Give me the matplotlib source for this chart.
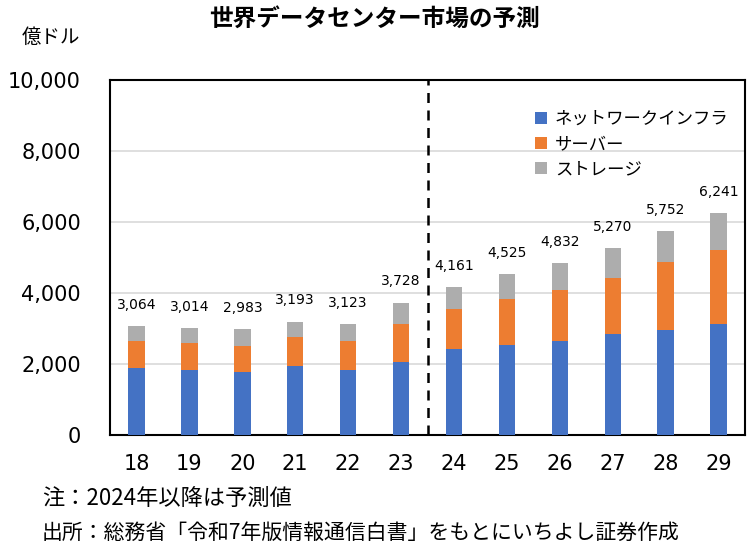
import numpy as np
import matplotlib.pyplot as plt

plt.rcParams['font.family'] = ['Noto Sans CJK JP', 'DejaVu Sans']

years = ["18", "19", "20", "21", "22", "23", "24", "25", "26", "27", "28", "29"]
network = [1889, 1833, 1769, 1944, 1833, 2064, 2425, 2536, 2656, 2842, 2953, 3128]
server = [769, 770, 750, 806, 825, 1055, 1131, 1306, 1416, 1575, 1925, 2094]
totals = [3064, 3014, 2983, 3193, 3123, 3728, 4161, 4525, 4832, 5270, 5752, 6241]
storage = [t - n - s for t, n, s in zip(totals, network, server)]
y_ticks = [0, 2000, 4000, 6000, 8000, 10000]

fig = plt.figure(figsize=(7.5, 5.54), dpi=100)
ax = fig.add_axes([0.1467, 0.2148, 0.8467, 0.6408])

x = np.arange(len(years))
w = 0.31
ax.bar(x, network, w, color='#4472C4', label='ネットワークインフラ', zorder=3)
ax.bar(x, server, w, bottom=network, color='#ED7D31', label='サーバー', zorder=3)
base = np.array(network) + np.array(server)
ax.bar(x, storage, w, bottom=base, color='#ADADAD', label='ストレージ', zorder=3)

for xi, t in zip(x, totals):
    ax.text(xi, t + 400, f"{t:,}", ha='center', va='bottom', fontsize=10,
            family='DejaVu Sans')

# 2024年以降は予測値
ax.axvline(5.5, color='black', ls=(0, (4, 3)), lw=1.8, zorder=4)

ax.set_xlim(-0.5, 11.5)
ax.set_ylim(0, 10000)
ax.set_yticks(y_ticks)
ax.set_yticklabels([f"{v:,}" for v in y_ticks], fontsize=15, family='DejaVu Sans')
ax.set_xticks(x)
ax.set_xticklabels(years, fontsize=15, family='DejaVu Sans')
ax.tick_params(length=0)
ax.tick_params(axis='y', pad=21)
ax.tick_params(axis='x', pad=14)
ax.yaxis.grid(True, color='#D9D9D9', lw=1.2, zorder=0)
for sp in ax.spines.values():
    sp.set_color('black')
    sp.set_linewidth(1.5)

ax.legend(loc='upper left', bbox_to_anchor=(0.658, 0.935), frameon=False,
          fontsize=12.5, handlelength=0.7, handleheight=0.7, handletextpad=0.45,
          labelspacing=0.4, borderaxespad=0)

fig.text(0.5, 0.966, '世界データセンター市場の予測', ha='center', va='center',
         fontsize=17, fontweight='bold')
fig.text(0.029, 0.932, '億ドル', ha='left', va='center', fontsize=14)
fig.text(0.056, 0.101, '注：2024年以降は予測値', ha='left', va='center', fontsize=16)
fig.text(0.056, 0.038, '出所：総務省「令和7年版情報通信白書」をもとにいちよし証券作成',
         ha='left', va='center', fontsize=15)

fig.savefig('out.png', dpi=100)
